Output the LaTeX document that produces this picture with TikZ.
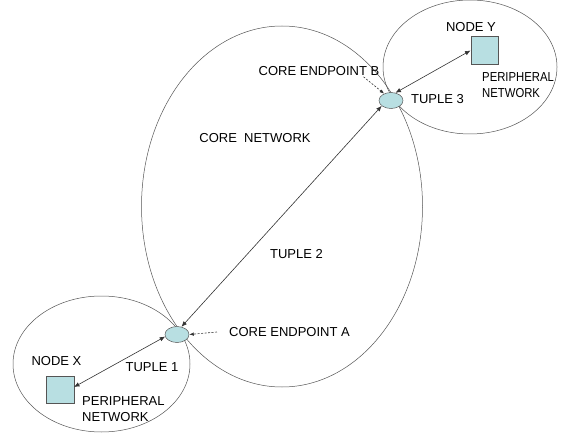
\documentclass[tikz,border=0pt]{standalone}
\usepackage{fontspec}
\setmainfont{Liberation Sans}
\usetikzlibrary{shapes.geometric,arrows.meta}

\definecolor{linegray}{RGB}{85,85,85}
\definecolor{endfill}{RGB}{184,223,226}

\tikzset{
    net/.style={ellipse,draw=linegray,line width=0.5pt,inner sep=0pt},
    endpt/.style={ellipse,draw=linegray,fill=endfill,line width=0.5pt,
        minimum width=24pt,minimum height=16pt,inner sep=0pt},
    host/.style={rectangle,draw=linegray,fill=endfill,line width=0.5pt,
        minimum size=27.5pt,inner sep=0pt},
    lbl/.style={font=\fontsize{13}{15.5}\selectfont,inner sep=0pt},
    tuple/.style={{Latex[length=5.5pt,width=4.5pt]}-{Latex[length=5.5pt,width=4.5pt]},
        draw=black!80,line width=0.6pt},
    pointer/.style={-{Latex[length=4.5pt,width=3.5pt]},dashed,
        dash pattern=on 2pt off 1.5pt,draw=black!80,line width=0.6pt}
}

\begin{document}
\begin{tikzpicture}[x=1pt,y=1pt]
    \useasboundingbox (0,0) rectangle (561,434);

    % networks
    \node[net,minimum width=281pt,minimum height=361pt] (core) at (282,227.5) {};
    \node[net,minimum width=174pt,minimum height=134pt] (perY) at (470,367) {};
    \node[net,minimum width=177pt,minimum height=136pt] (perX) at (101.5,70) {};

    % endpoints and hosts
    \node[endpt] (epA) at (177,99.5) {};
    \node[endpt] (epB) at (391,333.5) {};
    \node[host] (nodeY) at (484.5,383.5) {};
    \node[host] (nodeX) at (60,44.5) {};

    % labels
    \node[lbl] (lblY) at (471,407) {NODE Y};
    \node[lbl,anchor=west] (perYtxt) at (482,347.5)
        {\scalebox{0.87}[1]{\begin{tabular}{@{}l@{}}PERIPHERAL\\NETWORK\end{tabular}}};
    \node[lbl] (tup3) at (437.5,335) {TUPLE 3};
    \node[lbl] (lblB) at (319,363) {CORE ENDPOINT B};
    \node[lbl] (coretxt) at (255,296) {CORE~\ NETWORK};
    \node[lbl] (tup2) at (296.5,180) {TUPLE 2};
    \node[lbl] (lblA) at (289.5,102) {CORE ENDPOINT A};
    \node[lbl] (lblX) at (56.5,73) {NODE X};
    \node[lbl] (tup1) at (152,67) {TUPLE 1};
    \node[lbl,align=left,anchor=west] (perXtxt) at (82,25) {PERIPHERAL\\NETWORK};

    % tuples
    \draw[tuple] (nodeX.10) -- (epA.190);
    \draw[tuple] (epA.60) -- (epB.210);
    \draw[tuple] (epB.60) -- (nodeY.west);

    % pointers to endpoints
    \draw[pointer] ([xshift=-12pt]lblA.west) -- (epA.east);
    \draw[pointer] ([xshift=-16pt,yshift=-1pt]lblB.south east) -- (epB.135);
\end{tikzpicture}
\end{document}
